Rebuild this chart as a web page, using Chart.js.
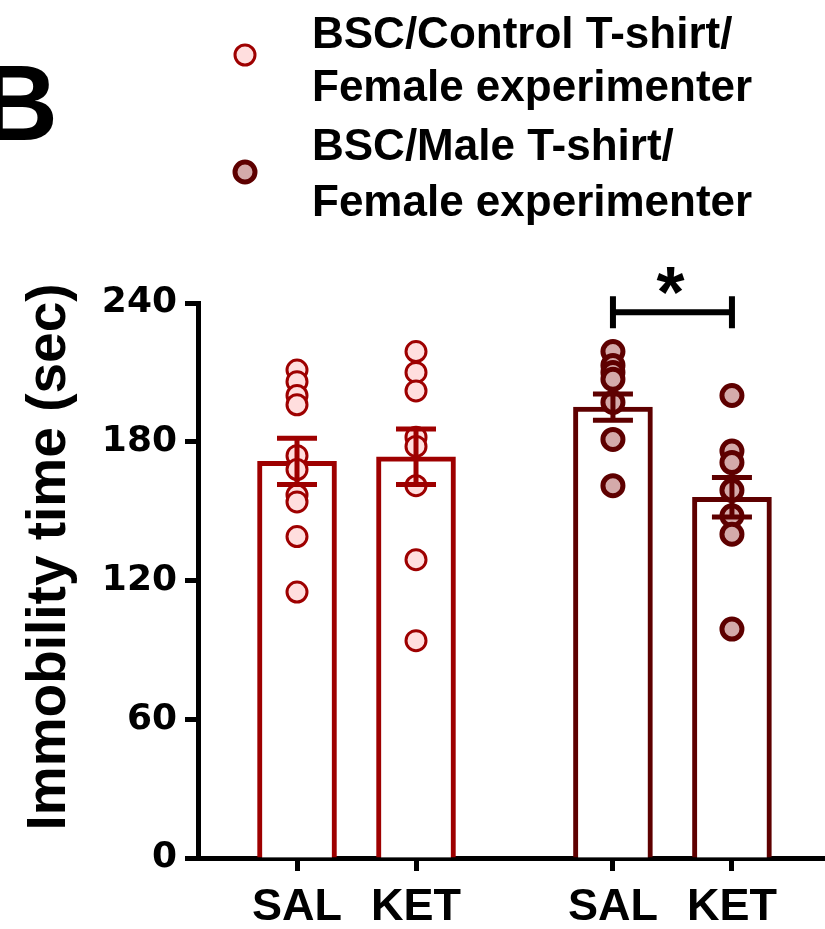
<!DOCTYPE html>
<html>
<head>
<meta charset="utf-8">
<script src="https://cdn.jsdelivr.net/npm/chart.js@4.4.1/dist/chart.umd.min.js"></script>
<style>
  html, body { margin: 0; padding: 0; background: #fff; overflow: hidden; }
  #wrap { position: relative; width: 825px; height: 929px; }
  #wrap canvas { display: block; }
</style>
</head>
<body>
<div id="wrap"><canvas id="chart"></canvas></div>
<script>
// ---- Data ----
const xLabels = ['SAL', 'KET', 'SAL', 'KET'];
const groupOf = [0, 0, 1, 1];
const means = [171.5, 173.5, 195, 156];
const sems = [10, 12, 5.7, 8.5];
const points = [
    [211, 206, 200, 196, 174, 168, 157, 154, 139, 115],
    [219, 210, 202, 182, 178, 161, 129, 94],
    [219, 213, 210, 207, 197, 181, 161],
    [200, 176, 171, 159, 148, 140, 99],
];
const legendLines = [
    ['BSC/Control T-shirt/', 'Female experimenter'],
    ['BSC/Male T-shirt/', 'Female experimenter'],
];
const yTicks = [0, 60, 120, 180, 240];
const sigPair = [2, 3];
const sigY = 236;

// ---- Layout / styles ----
const slotX = [1, 2, 3.655, 4.655];
const stroke = ['#9e0000', '#5e0000'];
const dotFill = ['#ffdede', '#d4aaaa'];
const dotBorder = [3, 5];
const FONT = "'Liberation Sans', Arial, sans-serif";

const barData = means.map((m, i) => ({ x: slotX[i], y: m }));

const datasets = [{
    type: 'bar',
    data: barData,
    backgroundColor: '#fff',
    borderColor: groupOf.map(g => stroke[g]),
    borderWidth: 5,
    barThickness: 79,
    order: 10,
}];
points.forEach((vals, i) => {
    const g = groupOf[i];
    datasets.push({
        type: 'scatter',
        data: vals.map(v => ({ x: slotX[i], y: v })),
        pointRadius: 10,
        pointBorderWidth: dotBorder[g],
        pointBackgroundColor: dotFill[g],
        pointBorderColor: stroke[g],
        order: 1,
    });
});

// ---- Overlay: error bars, bracket, title, legend ----
const overlay = {
    id: 'overlay',
    afterDatasetsDraw(chart) {
        const { ctx, scales: { x, y } } = chart;
        ctx.save();
        means.forEach((m, i) => {
            const cx = x.getPixelForValue(slotX[i]);
            const t = y.getPixelForValue(m + sems[i]);
            const b = y.getPixelForValue(m - sems[i]);
            ctx.strokeStyle = stroke[groupOf[i]];
            ctx.lineWidth = 5;
            ctx.beginPath();
            ctx.moveTo(cx, t); ctx.lineTo(cx, b);
            ctx.moveTo(cx - 20, t); ctx.lineTo(cx + 20, t);
            ctx.moveTo(cx - 20, b); ctx.lineTo(cx + 20, b);
            ctx.stroke();
        });
        ctx.restore();
    },
    afterDraw(chart) {
        const { ctx, scales: { x, y } } = chart;
        ctx.save();
        // significance bracket
        const x1 = x.getPixelForValue(slotX[sigPair[0]]);
        const x2 = x.getPixelForValue(slotX[sigPair[1]]);
        const by = y.getPixelForValue(sigY);
        ctx.strokeStyle = '#000';
        ctx.lineWidth = 6;
        ctx.beginPath();
        ctx.moveTo(x1, by); ctx.lineTo(x2, by);
        ctx.moveTo(x1, by - 16); ctx.lineTo(x1, by + 16);
        ctx.moveTo(x2, by - 16); ctx.lineTo(x2, by + 16);
        ctx.stroke();
        ctx.fillStyle = '#000';
        ctx.textAlign = 'center';
        ctx.textBaseline = 'alphabetic';
        ctx.font = 'bold 72px ' + FONT;
        ctx.fillText('*', (x1 + x2) / 2 - 2, by + 5);

        // y title
        ctx.save();
        ctx.translate(50, 557);
        ctx.rotate(-Math.PI / 2);
        ctx.textBaseline = 'middle';
        ctx.font = 'bold 55px ' + FONT;
        ctx.fillText('Immobility time (sec)', 0, 0);
        ctx.restore();

        // panel letter
        ctx.textAlign = 'left';
        ctx.textBaseline = 'alphabetic';
        ctx.font = 'bold 108px ' + FONT;
        ctx.fillText('B', -20, 140);

        // legend
        const rows = [[36, 89, 55], [148, 204, 172]];
        legendLines.forEach((lines, g) => {
            const [l1, l2, my] = rows[g];
            ctx.beginPath();
            ctx.arc(245, my, 10, 0, Math.PI * 2);
            ctx.fillStyle = dotFill[g];
            ctx.fill();
            ctx.lineWidth = dotBorder[g];
            ctx.strokeStyle = stroke[g];
            ctx.stroke();
            ctx.fillStyle = '#000';
            ctx.font = 'bold 44px ' + FONT;
            ctx.textBaseline = 'middle';
            ctx.fillText(lines[0], 312, l1);
            ctx.fillText(lines[1], 312, l2);
        });
        ctx.restore();
    },
};

new Chart(document.getElementById('chart'), {
    type: 'bar',
    data: { datasets },
    plugins: [overlay],
    options: {
        responsive: true,
        maintainAspectRatio: false,
        animation: false,
        events: [],
        layout: { autoPadding: false, padding: { top: 303, left: 0, right: 0, bottom: 0 } },
        plugins: { legend: { display: false }, tooltip: { enabled: false } },
        scales: {
            x: {
                type: 'linear',
                offset: false,
                min: 0.168,
                max: 5.437,
                afterBuildTicks: (s) => { s.ticks = slotX.map(v => ({ value: v })); },
                afterFit: (s) => { s.height = 71; s.paddingLeft = 0; s.paddingRight = 0; },
                grid: { offset: false, drawOnChartArea: false, drawTicks: true, tickLength: 13, tickWidth: 5, tickColor: '#000' },
                border: { display: true, width: 5, color: '#000' },
                ticks: {
                    autoSkip: false,
                    maxRotation: 0,
                    padding: 10,
                    color: '#000',
                    font: { family: FONT, size: 45, weight: 'bold' },
                    callback: (v, i) => xLabels[i],
                },
            },
            y: {
                min: 0,
                max: 240,
                afterBuildTicks: (s) => { s.ticks = yTicks.map(v => ({ value: v })); },
                afterFit: (s) => { s.width = 198; },
                grid: { drawOnChartArea: false, drawTicks: true, tickLength: 13, tickWidth: 5, tickColor: '#000' },
                border: { display: true, width: 5, color: '#000' },
                ticks: {
                    padding: 8,
                    color: '#000',
                    font: { family: "'DejaVu Sans', sans-serif", size: 36, weight: 'bold' },
                },
            },
        },
    },
});
</script>
</body>
</html>
